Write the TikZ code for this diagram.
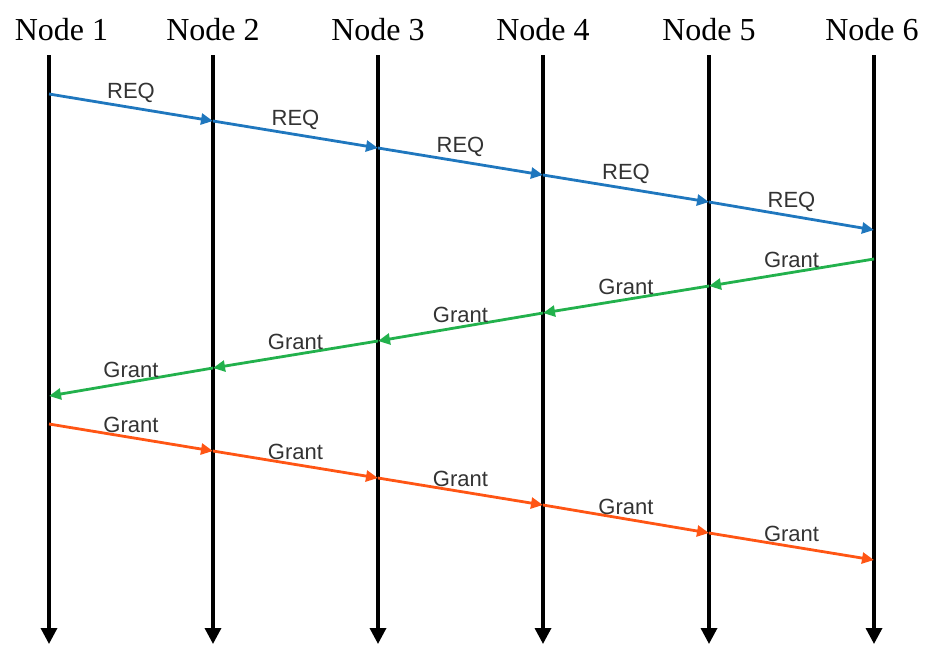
\documentclass[tikz,border=0pt]{standalone}
\usepackage{fontspec}
\setmainfont{Liberation Serif}
\newfontfamily\lblfont{Liberation Sans}
\usepackage{tikz}
\usetikzlibrary{arrows.meta}
\definecolor{reqblue}{RGB}{31,119,190}
\definecolor{grantgreen}{RGB}{34,177,76}
\definecolor{grantorange}{RGB}{255,85,20}

\begin{document}
\begin{tikzpicture}[x=1pt,y=-1pt,
    life/.style={line width=3.4pt,-{Triangle[length=16pt,width=16pt]}},
    msg/.style={line width=2.8pt,-{Triangle[length=12pt,width=11pt]}},
    lbl/.style={above,font=\lblfont\fontsize{22}{24}\selectfont,text=black!80},
    title/.style={font=\fontsize{32}{36}\selectfont}]
    \useasboundingbox (0,0) rectangle (928,645);
    % lifelines and titles
    \foreach \i/\x/\tx in {1/49/61.5,2/213/213,3/378/378,4/543/543,5/709/709,6/874/872}{
        \node[title] (n\i) at (\tx,30) {Node \i};
        \coordinate (top\i) at (\x,55);
        \coordinate (bot\i) at (\x,644);
        \draw[life] (top\i) -- (bot\i);
        }
    % crossing points
    \foreach \i/\x/\yr/\yg/\yo in {1/49/94/396/424,2/213/121/368/451,3/378/148/341/478,
        4/543/175/313/505,5/709/202/286/533,6/874/230/259/560}{
        \coordinate (r\i) at (\x,\yr);
        \coordinate (g\i) at (\x,\yg);
        \coordinate (o\i) at (\x,\yo);
        }
    \foreach \i/\j in {1/2,2/3,3/4,4/5,5/6}{
        \draw[msg,reqblue] (r\i) -- node[lbl]{REQ} (r\j);
        \draw[msg,grantgreen] (g\j) -- node[lbl]{Grant} (g\i);
        \draw[msg,grantorange] (o\i) -- node[lbl]{Grant} (o\j);
        }
\end{tikzpicture}
\end{document}
